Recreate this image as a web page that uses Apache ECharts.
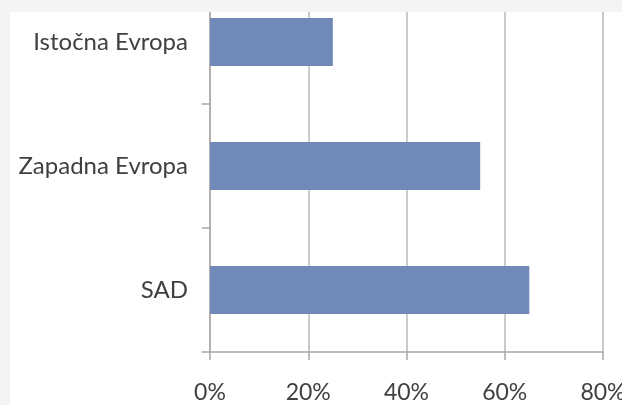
<!DOCTYPE html>
<html>
<head>
<meta charset="utf-8">
<script src="https://cdn.jsdelivr.net/npm/echarts@6/dist/echarts.min.js"></script>
<style>html,body{margin:0;padding:0;background:#fff;}#c{width:622px;height:405px;}</style>
</head>
<body>
<div id="c"></div>
<script>
var categories = ['SAD', 'Zapadna Evropa', 'Istočna Evropa'];
var values = [65, 55, 25];
var xTicks = [0, 20, 40, 60, 80];

var chart = echarts.init(document.getElementById('c'), null, {renderer: 'canvas'});
chart.setOption({
  animation: false,
  backgroundColor: '#ffffff',
  grid: {left: 210, right: 19, top: -20, bottom: 53, containLabel: false, outerBoundsMode: 'none'},
  xAxis: {
    type: 'value', min: xTicks[0], max: xTicks[xTicks.length - 1], interval: 20,
    axisLine: {show: true, lineStyle: {color: '#a8a8a8', width: 1.5}},
    axisTick: {show: true, length: 8, lineStyle: {color: '#a8a8a8', width: 1.5}},
    splitLine: {show: true, lineStyle: {color: '#b8b8b8', width: 1.5}},
    axisLabel: {formatter: '{value}%', fontFamily: 'Lato', fontSize: 23, color: '#404040', margin: 29}
  },
  yAxis: {
    type: 'category', data: categories,
    axisLine: {show: true, lineStyle: {color: '#a8a8a8', width: 1.5}},
    axisTick: {show: true, length: 8, lineStyle: {color: '#a8a8a8', width: 1.5}},
    axisLabel: {fontFamily: 'Lato', fontSize: 24, color: '#404040', margin: 22}
  },
  series: [{
    type: 'bar', data: values, barWidth: 48,
    itemStyle: {color: '#7189b6'}
  }],
  graphic: [
    {type: 'rect', z: 100, shape: {x: 0, y: 0, width: 622, height: 12}, style: {fill: '#f4f4f4'}},
    {type: 'rect', z: 100, shape: {x: 0, y: 0, width: 10, height: 405}, style: {fill: '#f4f4f4'}}
  ]
});
</script>
</body>
</html>
